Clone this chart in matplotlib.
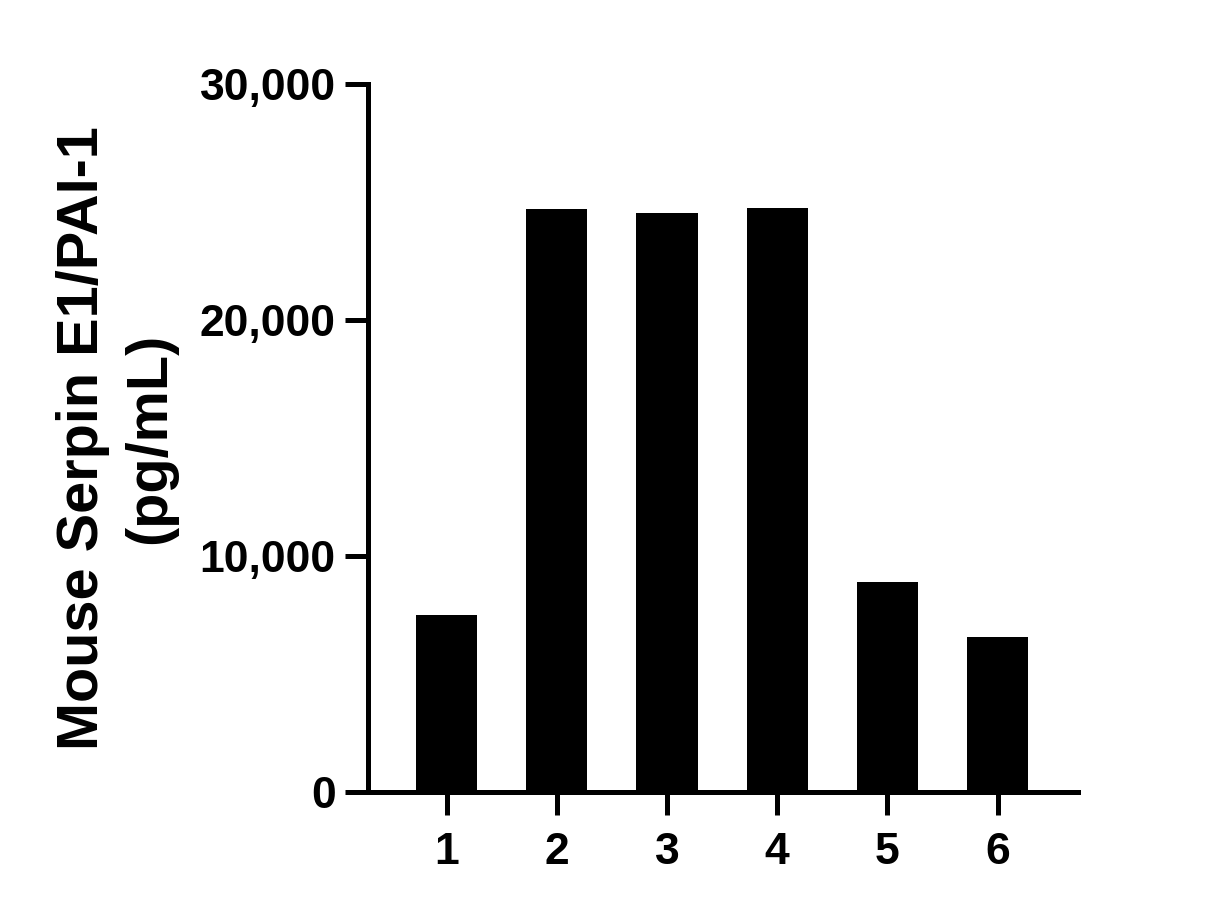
import matplotlib.pyplot as plt
from matplotlib.ticker import FuncFormatter

# --- DATA ---
samples = ["1", "2", "3", "4", "5", "6"]
serpin_pg_ml = [7500, 24700, 24550, 24750, 8900, 6580]
y_ticks = [0, 10000, 20000, 30000]

plt.rcParams['font.family'] = ['Liberation Sans', 'DejaVu Sans']
plt.rcParams['font.weight'] = 'bold'

fig = plt.figure(figsize=(12.16, 9.09), dpi=100)
ax = fig.add_axes([0.3030, 0.1282, 0.5835, 0.7790])

x = list(range(1, len(samples) + 1))
ax.bar(x, serpin_pg_ml, width=0.555, color='black')

ax.set_xlim(0.29, 6.73)
ax.set_ylim(0, 30000)
ax.set_xticks(x)
ax.set_xticklabels(samples)
ax.set_yticks(y_ticks)
ax.yaxis.set_major_formatter(FuncFormatter(lambda v, p: f"{int(v):,}"))

for side in ['top', 'right']:
    ax.spines[side].set_visible(False)
for side in ['left', 'bottom']:
    ax.spines[side].set_linewidth(3.6)
    ax.spines[side].set_capstyle('projecting')

ax.tick_params(axis='both', width=3.6, length=16.5, labelsize=32)
ax.tick_params(axis='x', pad=12)
ax.tick_params(axis='y', pad=7)
for lbl in ax.get_xticklabels() + ax.get_yticklabels():
    lbl.set_fontweight('bold')

ax.set_ylabel("Mouse Serpin E1/PAI-1\n(pg/mL)", fontsize=41.5, fontweight='bold',
              linespacing=1.33, labelpad=16)

fig.savefig("out.png", dpi=100)
